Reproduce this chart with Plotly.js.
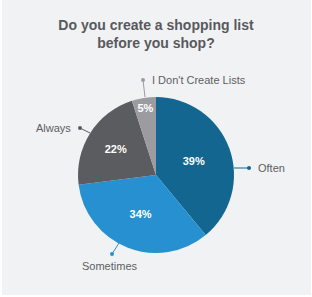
<!DOCTYPE html>
<html>
<head>
<meta charset="utf-8">
<script src="https://cdn.plot.ly/plotly-3.0.1.min.js"></script>
<style>html,body{margin:0;padding:0;background:#fff;}#chart{width:312px;height:297px;}</style>
</head>
<body>
<div id="chart"></div>
<script>
const categories = ["Often", "Sometimes", "Always", "I Don't Create Lists"];
const values = [39, 34, 22, 5];
const colors = ["#13668f", "#2690d0", "#5b5c60", "#9b9ba0"];
const titleText = "Do you create a shopping list<br>before you shop?";

const W = 312, H = 297;
const px = x => x / W;
const py = y => 1 - y / H;

// label layout (pixels): text anchor, dot position, leader start
const labelLayout = [
  {tx: 256, ty: 168, xanchor: "left",   yanchor: "middle", dot: [249, 168], from: [234, 168]},
  {tx: 110, ty: 266, xanchor: "center", yanchor: "middle", dot: [112, 254], from: [119, 243]},
  {tx: 73,  ty: 128, xanchor: "right",  yanchor: "middle", dot: [80, 128],  from: [90, 133]},
  {tx: 150, ty: 80,  xanchor: "left",   yanchor: "middle", dot: [143, 80],  from: [145, 97]}
];

const annotations = [];
const shapes = [
  {type: "rect", xref: "paper", yref: "paper", x0: px(2), x1: px(311), y0: py(295), y1: 1,
   fillcolor: "#f1f2f4", line: {width: 0}, layer: "below"}
];
categories.forEach((c, i) => {
  const L = labelLayout[i];
  annotations.push({text: c, x: px(L.tx), y: py(L.ty), xref: "paper", yref: "paper",
    xanchor: L.xanchor, yanchor: L.yanchor, showarrow: false,
    font: {family: "Liberation Sans, Arial, sans-serif", size: 11, color: "#5d5e62"}});
  shapes.push({type: "line", xref: "paper", yref: "paper",
    x0: px(L.from[0]), y0: py(L.from[1]), x1: px(L.dot[0]), y1: py(L.dot[1]),
    line: {color: colors[i], width: 1}});
  shapes.push({type: "circle", xref: "paper", yref: "paper",
    x0: px(L.dot[0] - 2), x1: px(L.dot[0] + 2), y0: py(L.dot[1] + 2), y1: py(L.dot[1] - 2),
    fillcolor: colors[i], line: {width: 0}});
});

const cx = 156, cy = 175, r = 78;
const data = [{
  type: "pie",
  labels: categories,
  values: values,
  sort: false,
  direction: "clockwise",
  rotation: 0,
  marker: {colors: colors, line: {width: 0}},
  textinfo: "percent",
  texttemplate: "%{percent:.0%}",
  textposition: "inside",
  insidetextorientation: "horizontal",
  textfont: {family: "Liberation Sans, Arial, sans-serif", size: 11, color: "#ffffff", weight: "bold"},
  hoverinfo: "none",
  showlegend: false,
  domain: {x: [px(cx - r), px(cx + r)], y: [py(cy + r), py(cy - r)]}
}];

const layout = {
  width: W, height: H,
  margin: {l: 0, r: 0, t: 0, b: 0},
  paper_bgcolor: "#ffffff",
  plot_bgcolor: "rgba(0,0,0,0)",
  title: {text: titleText, x: 0.5, xanchor: "center", y: py(30), yanchor: "middle",
    font: {family: "Liberation Sans, Arial, sans-serif", size: 14, color: "#58595d", weight: "bold"}},
  annotations: annotations,
  shapes: shapes,
  showlegend: false
};

Plotly.newPlot("chart", data, layout, {staticPlot: true, displayModeBar: false});
</script>
</body>
</html>
